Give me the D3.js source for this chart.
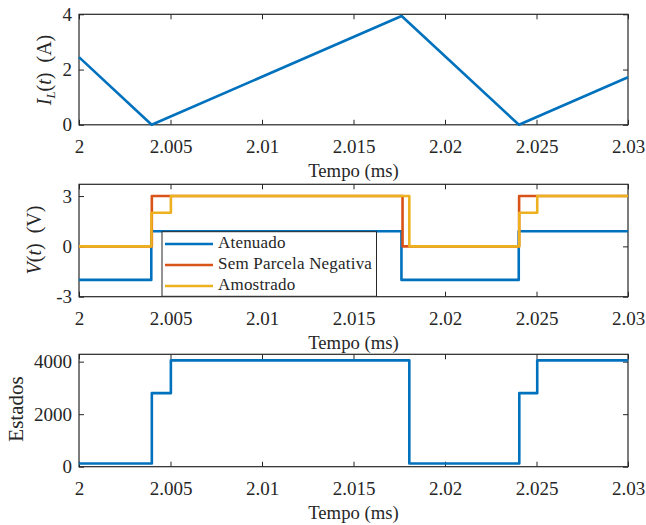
<!DOCTYPE html>
<html>
<head>
<meta charset="utf-8">
<script src="https://cdn.jsdelivr.net/npm/d3@7"></script>
<style>
body { margin: 0; background: #fff; }
svg { display: block; font-family: "Liberation Serif", "Times New Roman", serif; }
svg text { font-family: "Liberation Serif", "Times New Roman", serif; }
</style>
</head>
<body>
<div id="grafico"></div>
<script>
// valores
const xTicks = [2, 2.005, 2.01, 2.015, 2.02, 2.025, 2.03];

const tempoIL = [2, 2.00397, 2.01763, 2.02404, 2.03];
const correnteIL = [2.45, 0, 3.94, 0, 1.72];

// degraus (valor vale a partir do instante)
const tempoAtenuado = [2, 2.00395, 2.01762, 2.02403, 2.03];
const vAtenuado = [-2, 0.9, -2, 0.9, 0.9];
const tempoSemNeg = [2, 2.00398, 2.01768, 2.02405, 2.03];
const vSemNeg = [0, 3, 0, 3, 3];
const tempoAmostrado = [2, 2.00396, 2.00502, 2.01805, 2.02406, 2.02504, 2.03];
const vAmostrado = [0, 2, 3, 0, 2, 3, 3];

const tempoEstados = [2, 2.00398, 2.00502, 2.01805, 2.02406, 2.02504, 2.03];
const estados = [120, 2800, 4050, 120, 2800, 4050, 4050];

const legendaNomes = ["Atenuado", "Sem Parcela Negativa", "Amostrado"];
const cores = ["#0072BD", "#D95319", "#EDB120"];

const width = 646;
const height = 525;
const left = 79, right = 628;
const eixoCor = "#262626";
const fonte = '"Liberation Serif", "Times New Roman", serif';

const svg = d3.select("#grafico")
    .append("svg")
    .attr("width", width)
    .attr("height", height)
    .style("background-color", "#fff");

const x = d3.scaleLinear().domain([2, 2.03]).range([left, right]);

function painel(top, bottom, yDomain, yTicks) {//desenha a caixa e os eixos
    const y = d3.scaleLinear().domain(yDomain).range([bottom, top]);
    const g = svg.append("g");

    g.append("g")
        .attr("transform", `translate(0,${bottom})`)
        .call(d3.axisBottom(x).tickValues(xTicks).tickSize(-5).tickPadding(14.5).tickFormat(d => String(d)))
        .call(a => a.select(".domain").remove())
        .call(a => a.selectAll("text").style("font-size", "19px").style("font-family", fonte).attr("fill", eixoCor))
        .call(a => a.selectAll("line").attr("stroke", eixoCor));
    g.append("g")
        .attr("transform", `translate(0,${top})`)
        .call(d3.axisTop(x).tickValues(xTicks).tickSize(-5).tickFormat(""))
        .call(a => a.select(".domain").remove())
        .call(a => a.selectAll("line").attr("stroke", eixoCor));
    g.append("g")
        .attr("transform", `translate(${left},0)`)
        .call(d3.axisLeft(y).tickValues(yTicks).tickSize(-5).tickPadding(7).tickFormat(d => String(d)))
        .call(a => a.select(".domain").remove())
        .call(a => a.selectAll("text").style("font-size", "19px").style("font-family", fonte).attr("fill", eixoCor))
        .call(a => a.selectAll("line").attr("stroke", eixoCor));
    g.append("g")
        .attr("transform", `translate(${right},0)`)
        .call(d3.axisRight(y).tickValues(yTicks).tickSize(-5).tickFormat(""))
        .call(a => a.select(".domain").remove())
        .call(a => a.selectAll("line").attr("stroke", eixoCor));

    g.append("rect")
        .attr("x", left).attr("y", top)
        .attr("width", right - left).attr("height", bottom - top)
        .attr("fill", "none")
        .attr("stroke", eixoCor)
        .attr("stroke-width", 1.2);

    g.append("text")//Tempo (ms)
        .attr("x", (left + right) / 2)
        .attr("y", bottom + 52)
        .attr("text-anchor", "middle")
        .attr("fill", eixoCor)
        .style("font-size", "18.7px")
        .text("Tempo (ms)");
    return { g: g, y: y };
}

function linha(g, xs, ys, yScale, cor, curva) {
    const pts = xs.map((t, i) => [t, ys[i]]);
    g.append("path")
        .datum(pts)
        .attr("d", d3.line().x(d => x(d[0])).y(d => yScale(d[1])).curve(curva))
        .attr("fill", "none")
        .attr("stroke", cor)
        .attr("stroke-width", 2.6)
        .attr("stroke-linejoin", "round");
}

// painel 1 - corrente
const p1 = painel(14.3, 124.8, [0, 4], [0, 2, 4]);
linha(p1.g, tempoIL, correnteIL, p1.y, cores[0], d3.curveLinear);
const lab1 = p1.g.append("text")
    .attr("transform", "translate(51,70) rotate(-90)")
    .attr("text-anchor", "middle")
    .attr("fill", eixoCor)
    .style("font-size", "20px");
lab1.append("tspan").style("font-style", "italic").text("I");
lab1.append("tspan").style("font-style", "italic").style("font-size", "13px").attr("dy", 4).text("L");
lab1.append("tspan").attr("dy", -4).text("(");
lab1.append("tspan").style("font-style", "italic").text("t");
lab1.append("tspan").text(")\u2002(A)");

// painel 2 - tensões
const p2 = painel(184.3, 296.7, [-3, 3.7], [-3, 0, 3]);
linha(p2.g, tempoAtenuado, vAtenuado, p2.y, cores[0], d3.curveStepAfter);
linha(p2.g, tempoSemNeg, vSemNeg, p2.y, cores[1], d3.curveStepAfter);
linha(p2.g, tempoAmostrado, vAmostrado, p2.y, cores[2], d3.curveStepAfter);
const lab2 = p2.g.append("text")
    .attr("transform", "translate(41,240) rotate(-90)")
    .attr("text-anchor", "middle")
    .attr("fill", eixoCor)
    .style("font-size", "20px");
lab2.append("tspan").style("font-style", "italic").text("V");
lab2.append("tspan").text("(");
lab2.append("tspan").style("font-style", "italic").text("t");
lab2.append("tspan").text(")\u2002(V)");

// legenda
const leg = p2.g.append("g");
leg.append("rect")
    .attr("x", 162).attr("y", 231.7)
    .attr("width", 214.5).attr("height", 64.6)
    .attr("fill", "#fff")
    .attr("stroke", eixoCor)
    .attr("stroke-width", 1);
legendaNomes.forEach(function (nome, i) {
    const ly = 244 + i * 21;
    leg.append("line")
        .attr("x1", 165).attr("x2", 213)
        .attr("y1", ly).attr("y2", ly)
        .attr("stroke", cores[i])
        .attr("stroke-width", 2.6);
    leg.append("text")
        .attr("x", 218).attr("y", ly + 4)
        .attr("fill", eixoCor)
        .style("font-size", "17px")
        .style("letter-spacing", "0.2px")
        .text(nome);
});

// painel 3 - estados
const p3 = painel(354.3, 466.7, [0, 4280], [0, 2000, 4000]);
linha(p3.g, tempoEstados, estados, p3.y, cores[0], d3.curveStepAfter);
p3.g.append("text")
    .attr("transform", "translate(23,409) rotate(-90)")
    .attr("text-anchor", "middle")
    .attr("fill", eixoCor)
    .style("font-size", "21px")
    .text("Estados");
</script>
</body>
</html>
